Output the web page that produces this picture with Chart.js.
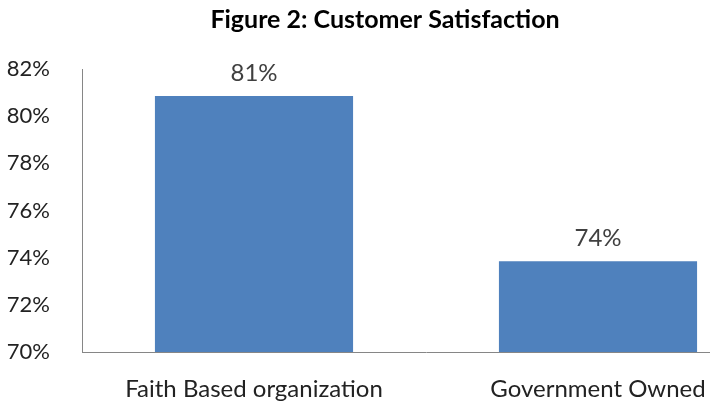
<!DOCTYPE html>
<html>
<head>
<meta charset="utf-8">
<script src="https://cdn.jsdelivr.net/npm/chart.js@4"></script>
<style>
  html, body { margin: 0; padding: 0; background: #fff; overflow: hidden; }
  #wrap { width: 812px; height: 401px; }
</style>
</head>
<body>
<div id="wrap"><canvas id="chart" width="812" height="401"></canvas></div>
<script>
const categories = ["Faith Based organization", "Government Owned"];
const satisfaction = [80.85, 73.85];
const valueLabels = ["81%", "74%"];
const yTicks = [70, 72, 74, 76, 78, 80, 82];

const FONT = "Lato, 'Open Sans', sans-serif";

// writes the rounded percentage above each bar
const barLabels = {
  id: "barLabels",
  afterDatasetsDraw(chart) {
    const ctx = chart.ctx;
    const meta = chart.getDatasetMeta(0);
    ctx.save();
    ctx.font = "24px " + FONT;
    ctx.fillStyle = "#404040";
    ctx.textAlign = "center";
    ctx.textBaseline = "bottom";
    meta.data.forEach((bar, i) => {
      ctx.fillText(valueLabels[i], bar.x, bar.y - 11);
    });
    ctx.restore();
  },
};

new Chart(document.getElementById("chart"), {
  type: "bar",
  data: {
    labels: categories,
    datasets: [
      {
        data: satisfaction,
        backgroundColor: "#4F81BD",
        borderWidth: 0,
        categoryPercentage: 1,
        barPercentage: 0.576,
      },
    ],
  },
  options: {
    responsive: false,
    animation: false,
    layout: { padding: { left: 0, right: 42, top: 0, bottom: 0 } },
    plugins: {
      legend: { display: false },
      tooltip: { enabled: false },
      title: {
        display: true,
        text: "Figure 2: Customer Satisfaction",
        color: "#000",
        font: { family: FONT, size: 25, weight: "bold" },
        padding: { top: 5, bottom: 34 },
      },
    },
    scales: {
      x: {
        grid: { display: false },
        border: { display: true, color: "#868686", width: 1 },
        ticks: {
          color: "#222",
          font: { family: FONT, size: 24 },
          padding: 15,
          maxRotation: 0,
        },
        afterFit(scale) { scale.height = 49; },
      },
      y: {
        min: 70,
        max: 82,
        grid: { display: false },
        border: { display: true, color: "#868686", width: 1 },
        afterBuildTicks(scale) { scale.ticks = yTicks.map((v) => ({ value: v })); },
        ticks: {
          color: "#222",
          font: { family: FONT, size: 22 },
          padding: 24,
          callback: (v) => v + "%",
        },
        afterFit(scale) { scale.width = 82; },
      },
    },
  },
  plugins: [barLabels],
});
</script>
</body>
</html>
